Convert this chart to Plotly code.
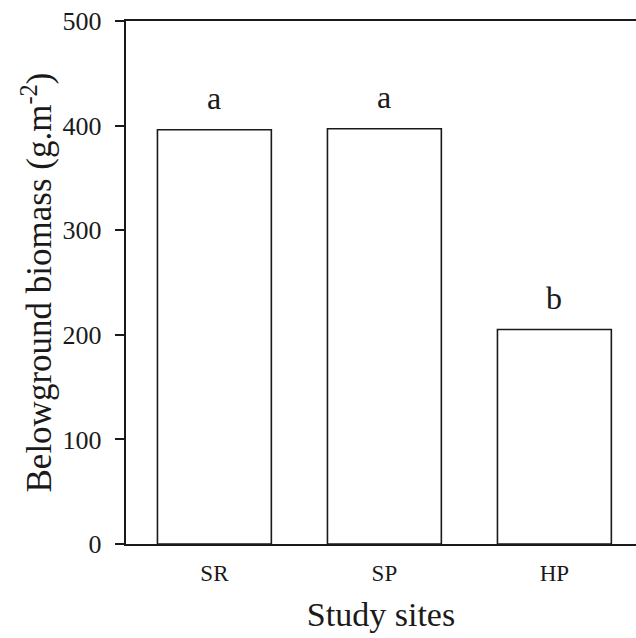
import plotly.graph_objects as go

sites = ["SR", "SP", "HP"]
biomass = [396, 397, 205]
letters = ["a", "a", "b"]
y_ticks = [0, 100, 200, 300, 400, 500]

FONT = "Liberation Serif"
INK = "#1a1a1a"

# transparent trailing pad keeps labels a little further from the tick marks
PAD = "<span style='font-size:34px;color:rgba(0,0,0,0)'>.</span>"
y_ticktext = [f"{v}{PAD}" for v in y_ticks]

fig = go.Figure()
fig.add_trace(go.Bar(
    x=sites, y=biomass,
    marker=dict(color="white", line=dict(color=INK, width=1.6)),
    width=0.67,
    showlegend=False,
))

for s, v, t in zip(sites, biomass, letters):
    fig.add_annotation(x=s, y=v, text=t, showarrow=False, yanchor="bottom",
                       yshift=12, font=dict(family=FONT, size=32, color=INK))

fig.update_layout(
    width=636, height=638,
    margin=dict(l=126, r=0, t=21, b=94),
    paper_bgcolor="white", plot_bgcolor="white",
    font=dict(family=FONT, color=INK),
    xaxis=dict(
        range=[-0.52, 2.48],
        showline=True, linecolor=INK, linewidth=1.6, mirror=True,
        showgrid=False, zeroline=False, ticks="",
        ticklabelstandoff=8,
        tickfont=dict(family=FONT, size=23, color=INK),
        title=dict(text="Study sites", font=dict(family=FONT, size=34, color=INK), standoff=17),
    ),
    yaxis=dict(
        range=[0, 500],
        tickvals=y_ticks,
        ticktext=y_ticktext,
        showline=True, linecolor=INK, linewidth=1.6,
        showgrid=False, zeroline=False,
        ticks="outside", ticklen=9, tickwidth=1.6, tickcolor=INK,
        tickfont=dict(family=FONT, size=26, color=INK),
        title=dict(text="Belowground biomass (g.m<sup>-2</sup>)",
                   font=dict(family=FONT, size=35, color=INK), standoff=0),
    ),
)

fig.write_html("out.html")
